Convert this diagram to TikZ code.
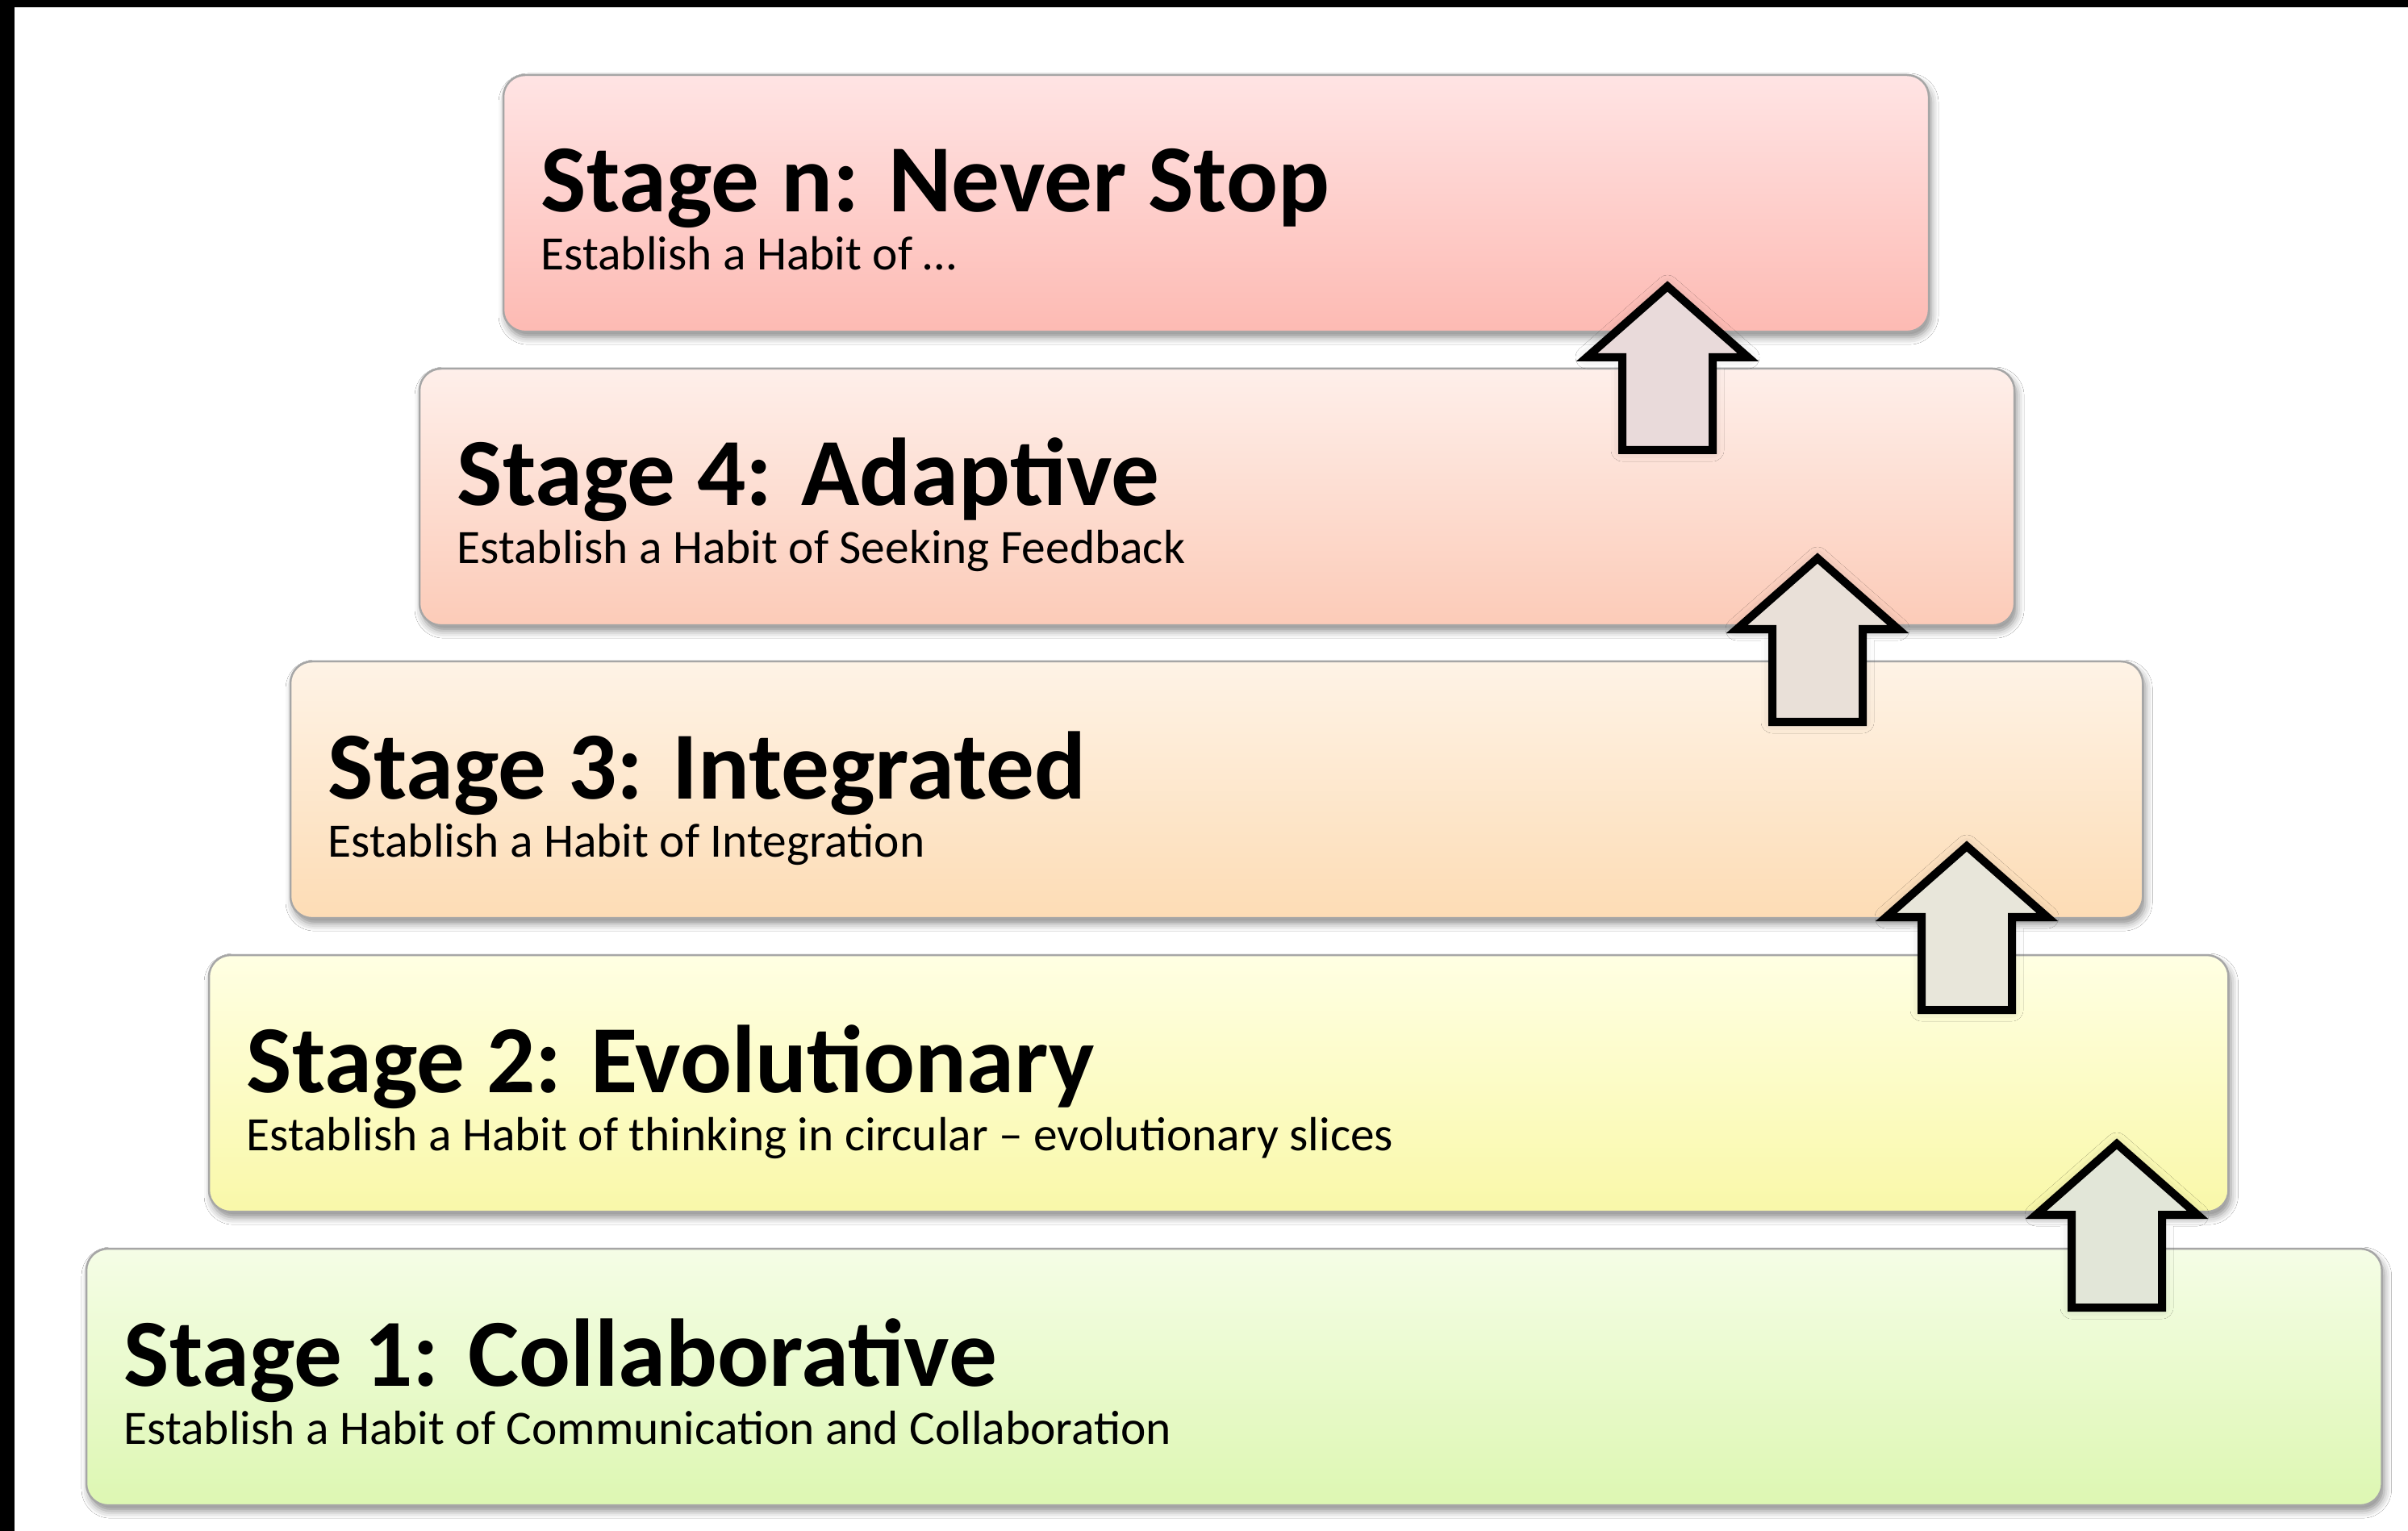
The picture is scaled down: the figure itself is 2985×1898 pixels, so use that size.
\documentclass[tikz,border=0pt]{standalone}
\usepackage{fontspec}
\setmainfont{Carlito}
\usetikzlibrary{calc,shadows.blur}
\definecolor{nTop}{HTML}{FFE4E4}\definecolor{nBot}{HTML}{FDBAB3}
\definecolor{fTop}{HTML}{FEEFEA}\definecolor{fBot}{HTML}{FCCBB8}
\definecolor{tTop}{HTML}{FEF3E6}\definecolor{tBot}{HTML}{FDDCB5}
\definecolor{sTop}{HTML}{FFFFE3}\definecolor{sBot}{HTML}{F9F8A9}
\definecolor{oTop}{HTML}{F5FDE6}\definecolor{oBot}{HTML}{DDF7B2}
\definecolor{arrA}{HTML}{E9DADA}\definecolor{arrB}{HTML}{E9E0D8}
\definecolor{arrC}{HTML}{E8E6DA}\definecolor{arrD}{HTML}{E2E6D8}
\begin{document}
\begin{tikzpicture}[x=0.01cm,y=-0.01cm,
  stagebox/.style={draw=black!35, line width=0.025cm, rounded corners=0.27cm,
    anchor=north west, inner sep=0pt, outer sep=0pt, minimum height=3.18cm,
    blur shadow={shadow xshift=0.03cm, shadow yshift=-0.07cm, shadow blur radius=0.09cm, shadow opacity=45}},
  titletext/.style={anchor=base west, inner sep=0pt, font=\fontsize{33.9}{40}\selectfont\bfseries},
  subtext/.style={anchor=base west, inner sep=0pt, font=\fontsize{16.9}{20}\selectfont},
  arrowshape/.style={draw=black, line width=0.1cm, miter limit=10,
    blur shadow={shadow xshift=0pt, shadow yshift=0pt, shadow blur radius=0.14cm, shadow opacity=18}},
  pics/uparr/.style={code={
    \path[arrowshape, fill=#1] (0,7) -- (100,95) -- (56,95) -- (56,210) -- (-56,210) -- (-56,95) -- (-100,95) -- cycle;}}
]
\useasboundingbox (0,0) rectangle (2985,1898);
\fill[white] (0,0) rectangle (2985,1898);
\fill[black] (0,0) rectangle (18,1898);
\fill[black] (0,0) rectangle (2985,9);

% boxes
\node[stagebox, top color=nTop, bottom color=nBot, minimum width=17.66cm] (bn) at (624,93) {};
\node[stagebox, top color=fTop, bottom color=fBot, minimum width=19.76cm] (b4) at (520,457) {};
\node[stagebox, top color=tTop, bottom color=tBot, minimum width=22.95cm] (b3) at (360,820) {};
\node[stagebox, top color=sTop, bottom color=sBot, minimum width=25.02cm] (b2) at (259,1184) {};
\node[stagebox, top color=oTop, bottom color=oBot, minimum width=28.44cm] (b1) at (107,1548) {};

% texts
\node[titletext] (tn) at ($(bn.north west)+(46,170)$) {Stage n: Never Stop};
\node[subtext]   (sn) at ($(bn.north west)+(46,242)$) {Establish a Habit of …};
\node[titletext] (t4) at ($(b4.north west)+(46,170)$) {Stage 4: Adaptive};
\node[subtext]   (s4) at ($(b4.north west)+(46,242)$) {Establish a Habit of Seeking Feedback};
\node[titletext] (t3) at ($(b3.north west)+(46,170)$) {Stage 3: Integrated};
\node[subtext]   (s3) at ($(b3.north west)+(46,242)$) {Establish a Habit of Integration};
\node[titletext] (t2) at ($(b2.north west)+(46,170)$) {Stage 2: Evolutionary};
\node[subtext]   (s2) at ($(b2.north west)+(46,242)$) {Establish a Habit of thinking in circular – evolutionary slices};
\node[titletext] (t1) at ($(b1.north west)+(46,170)$) {Stage 1: Collaborative};
\node[subtext]   (s1) at ($(b1.north west)+(46,242)$) {Establish a Habit of Communication and Collaboration};

% arrows
\pic at (2067,348) {uparr=arrA};
\pic at (2253,685) {uparr=arrB};
\pic at (2438,1042) {uparr=arrC};
\pic at (2624,1411) {uparr=arrD};
\end{tikzpicture}
\end{document}
